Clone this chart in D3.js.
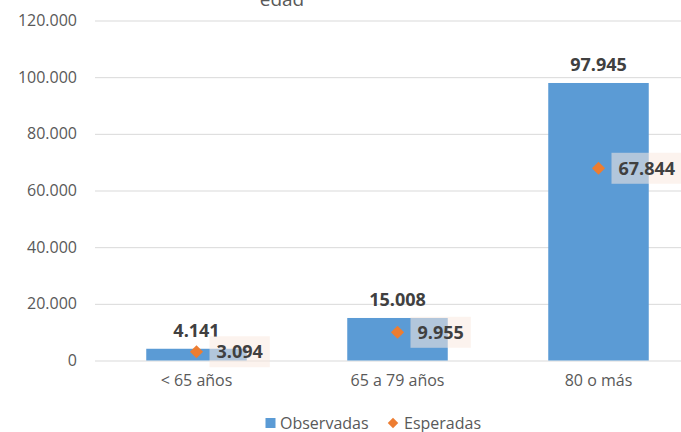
<!DOCTYPE html>
<html>
<head>
<meta charset="utf-8">
<script src="https://cdn.jsdelivr.net/npm/d3@7"></script>
<style>
  body { margin: 0; background: #fff; }
  text { font-family: "Open Sans", sans-serif; }
</style>
</head>
<body>
<script>
// chart data
var categories = ["< 65 años", "65 a 79 años", "80 o más"];
var observadas = [4141, 15008, 97945];
var esperadas = [3094, 9955, 67844];
var yTicks = [0, 20000, 40000, 60000, 80000, 100000, 120000];
var seriesNames = ["Observadas", "Esperadas"];

var width = 681,
    height = 432;

var svg = d3.select("body").append("svg")
    .attr("width", width)
    .attr("height", height);

var locale = d3.formatLocale({decimal: ",", thousands: ".", grouping: [3], currency: ["", ""]});
var fmt = locale.format(",");

var x = d3.scaleBand()
    .domain(categories)
    .range([96, 699])
    .paddingInner(0.5)
    .paddingOuter(0.25);

var y = d3.scaleLinear()
    .domain([0, 120000])
    .range([360.5, 20.5]);

// title (cut off at top, as in the original)
svg.append("text")
    .attr("x", 282)
    .attr("y", 6)
    .attr("text-anchor", "middle")
    .attr("fill", "#595959")
    .style("font-size", "19px")
    .text("edad");

// gridlines + y labels
var yAxis = svg.append("g")
    .attr("transform", "translate(95,0)")
    .call(d3.axisLeft(y).tickValues(yTicks).tickSize(-610).tickPadding(18).tickFormat(fmt));
yAxis.select(".domain").remove();
yAxis.selectAll("line").attr("stroke", "#d9d9d9").attr("stroke-width", 1);
yAxis.selectAll("text").attr("fill", "#595959").style("font-size", "16px")
    .style("font-family", "'Open Sans', sans-serif");

// category labels
var xAxis = svg.append("g")
    .attr("transform", "translate(0,360.5)")
    .call(d3.axisBottom(x).tickSize(0).tickPadding(14));
xAxis.select(".domain").remove();
xAxis.selectAll("text").attr("fill", "#595959").style("font-size", "16px")
    .style("font-family", "'Open Sans', sans-serif");

// bars
svg.selectAll("rect.bar")
    .data(observadas)
    .enter().append("rect")
    .attr("class", "bar")
    .attr("x", (d, i) => x(categories[i]))
    .attr("width", x.bandwidth())
    .attr("y", d => y(d))
    .attr("height", d => y(0) - y(d))
    .attr("fill", "#5b9bd5");

// bar value labels
svg.selectAll("text.obs")
    .data(observadas)
    .enter().append("text")
    .attr("class", "obs")
    .attr("x", (d, i) => x(categories[i]) + x.bandwidth() / 2)
    .attr("y", d => y(d) - 12)
    .attr("text-anchor", "middle")
    .attr("fill", "#404040")
    .style("font-size", "18px")
    .style("font-weight", "bold")
    .text(d => fmt(d));

var diamond = d3.symbol().type(d3.symbolDiamond2).size(110);

// expected markers with boxed labels
var exp = svg.selectAll("g.exp")
    .data(esperadas)
    .enter().append("g")
    .attr("class", "exp")
    .attr("transform", (d, i) => `translate(${x(categories[i]) + x.bandwidth() / 2},${y(d)})`);

exp.append("rect")
    .attr("x", 13)
    .attr("y", -15.5)
    .attr("height", 31)
    .attr("fill", "rgb(250,234,224)")
    .attr("fill-opacity", 0.55);

exp.append("path")
    .attr("d", diamond)
    .attr("fill", "#ed7d31");

exp.append("text")
    .attr("x", 20)
    .attr("y", 6.5)
    .attr("fill", "#404040")
    .style("font-size", "18px")
    .style("font-weight", "bold")
    .text(d => fmt(d));

exp.each(function() {
  var g = d3.select(this);
  var w = g.select("text").node().getComputedTextLength();
  g.select("rect").attr("width", w + 14);
});

// legend
var legend = svg.append("g").attr("transform", "translate(0,423)");
legend.append("rect")
    .attr("x", 265.5).attr("y", -5).attr("width", 10).attr("height", 10)
    .attr("fill", "#5b9bd5");
legend.append("text")
    .attr("x", 280).attr("y", 6)
    .attr("fill", "#595959").style("font-size", "16px")
    .text(seriesNames[0]);
legend.append("path")
    .attr("transform", "translate(393,0)")
    .attr("d", d3.symbol().type(d3.symbolDiamond2).size(70))
    .attr("fill", "#ed7d31");
legend.append("text")
    .attr("x", 404).attr("y", 6)
    .attr("fill", "#595959").style("font-size", "16px")
    .text(seriesNames[1]);
</script>
</body>
</html>
